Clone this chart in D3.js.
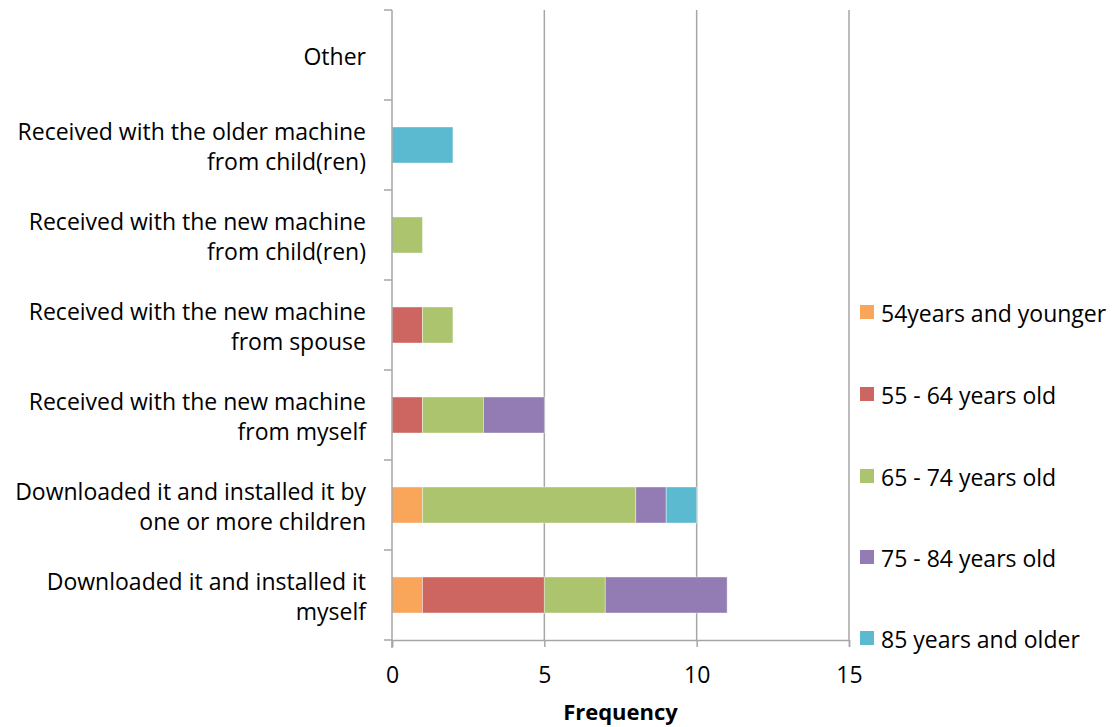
<!DOCTYPE html>
<html>
<head>
<meta charset="utf-8">
<script src="https://cdn.jsdelivr.net/npm/d3@7"></script>
<style>
  html, body { margin: 0; padding: 0; background: #fff; }
  svg { display: block; font-family: "Open Sans", "DejaVu Sans", sans-serif; }
</style>
</head>
<body>
<svg id="chart" width="1114" height="727"></svg>
<script>
// Categories, bottom to top as drawn
const categories = [
  ["Downloaded it and installed it", "myself"],
  ["Downloaded it and installed it by", "one or more children"],
  ["Received with the new machine", "from myself"],
  ["Received with the new machine", "from spouse"],
  ["Received with the new machine", "from child(ren)"],
  ["Received with the older machine", "from child(ren)"],
  ["Other"]
];
const seriesNames = ["54years and younger", "55 - 64 years old", "65 - 74 years old", "75 - 84 years old", "85 years and older"];
const seriesColors = ["#f9a65a", "#cd6660", "#abc46d", "#937cb3", "#5bbad0"];
const age54 = [1, 1, 0, 0, 0, 0, 0];
const age55 = [4, 0, 1, 1, 0, 0, 0];
const age65 = [2, 7, 2, 1, 1, 0, 0];
const age75 = [4, 1, 2, 0, 0, 0, 0];
const age85 = [0, 1, 0, 0, 0, 2, 0];
const xTicks = [0, 5, 10, 15];

const seriesValues = [age54, age55, age65, age75, age85];
const rows = categories.map((c, i) => {
  const r = { key: i };
  seriesNames.forEach((s, j) => r[s] = seriesValues[j][i]);
  return r;
});
const stacked = d3.stack().keys(seriesNames)(rows);

const svg = d3.select("#chart");
const plotLeft = 392, plotRight = 849, plotTop = 10, plotBottom = 640;
const fontSize = 23;

const x = d3.scaleLinear().domain([0, 15]).range([plotLeft, plotRight]);
const y = d3.scaleBand().domain(d3.range(categories.length).reverse()).range([plotTop, plotBottom]).paddingInner(0.6).paddingOuter(0.3);
const yBand = d3.scaleBand().domain(d3.range(categories.length).reverse()).range([plotTop, plotBottom]);

// vertical gridlines
svg.append("g").selectAll("line").data(xTicks.filter(t => t > 0)).join("line")
  .attr("x1", d => x(d)).attr("x2", d => x(d))
  .attr("y1", plotTop).attr("y2", plotBottom)
  .attr("stroke", "#a6a6a6").attr("stroke-width", 1.5);

// stacked bars
svg.append("g").selectAll("g").data(stacked).join("g")
  .attr("fill", (d, i) => seriesColors[i])
  .selectAll("rect").data(d => d.filter(p => p[1] - p[0] > 0)).join("rect")
  .attr("x", d => x(d[0]))
  .attr("width", d => x(d[1]) - x(d[0]))
  .attr("y", d => y(d.data.key))
  .attr("height", y.bandwidth())
  .attr("stroke", "#ffffff").attr("stroke-opacity", 0.5).attr("stroke-width", 0.8);

// category axis with ticks on band boundaries
const yAxisG = svg.append("g");
yAxisG.append("line").attr("x1", plotLeft).attr("x2", plotLeft).attr("y1", plotTop).attr("y2", plotBottom + 8)
  .attr("stroke", "#a6a6a6").attr("stroke-width", 1.5);
const bounds = d3.range(categories.length + 1).map(i => plotTop + i * yBand.step());
yAxisG.selectAll("line.tk").data(bounds).join("line").attr("class", "tk")
  .attr("x1", plotLeft - 8).attr("x2", plotLeft).attr("y1", d => d).attr("y2", d => d)
  .attr("stroke", "#a6a6a6").attr("stroke-width", 1.5);

// x axis
const xAxis = d3.axisBottom(x).tickValues(xTicks).tickSize(7);
const xg = svg.append("g").attr("transform", `translate(0,${plotBottom})`).call(xAxis);
xg.select(".domain").attr("stroke", "#a6a6a6").attr("stroke-width", 1.5);
xg.selectAll(".tick line").attr("stroke", "#a6a6a6").attr("stroke-width", 1.5);
xg.selectAll("text").attr("y", 35).attr("dy", "0.35em")
  .attr("font-size", fontSize).attr("fill", "#000").attr("font-family", "Open Sans, sans-serif");

// category labels
const labels = svg.append("g").attr("font-size", fontSize).attr("text-anchor", "end").attr("fill", "#000");
categories.forEach((lines, i) => {
  const cy = yBand(i) + yBand.bandwidth() / 2 + 2;
  const lh = 30;
  const t = labels.append("text");
  lines.forEach((ln, k) => {
    t.append("tspan").attr("x", 366)
      .attr("y", cy + (k - (lines.length - 1) / 2) * lh)
      .attr("dy", "0.35em").text(ln);
  });
});

// axis title
svg.append("text").attr("x", x(7.5)).attr("y", 712).attr("dy", "0.35em")
  .attr("text-anchor", "middle").attr("font-size", 22).attr("font-weight", "bold").text("Frequency");

// legend
const legendY = [312, 394, 476, 557, 638];
const lg = svg.append("g").selectAll("g").data(seriesNames).join("g")
  .attr("transform", (d, i) => `translate(860,${legendY[i]})`);
lg.append("rect").attr("x", 0).attr("y", -7).attr("width", 14).attr("height", 14)
  .attr("fill", (d, i) => seriesColors[i]);
lg.append("text").attr("x", 21).attr("y", 2).attr("dy", "0.35em").attr("font-size", fontSize).text(d => d);
</script>
</body>
</html>
